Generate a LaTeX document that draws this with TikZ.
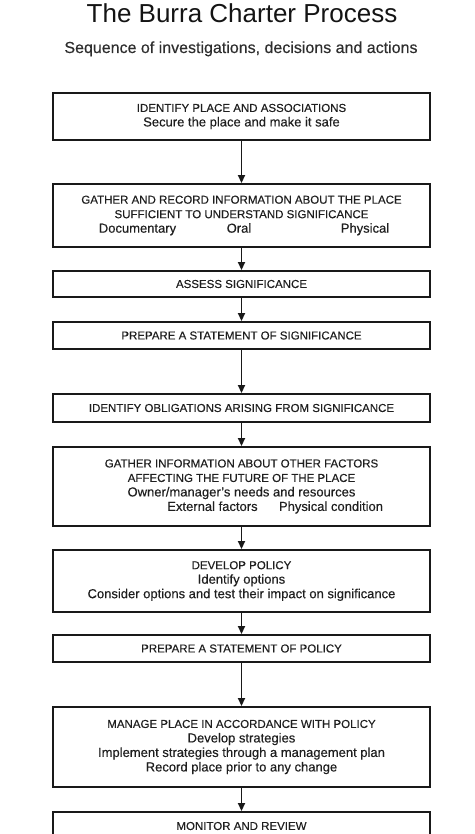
\documentclass[tikz,border=0pt]{standalone}
\usepackage{fontspec}
\setmainfont{Liberation Sans}
\newfontfamily\boxfam{Liberation Sans}[FakeBold=0.35]
\usetikzlibrary{arrows.meta}
\newcommand\capf{\boxfam\fontsize{11.5}{14.5}\selectfont}
\newcommand\lowf{\fontsize{13}{14.5}\selectfont}
\begin{document}
\begin{tikzpicture}[x=1pt,y=-1pt,
  box/.style={draw=black!90, line width=1.9pt, minimum width=377pt, inner sep=0pt,
    align=center, font=\capf, text=black!88},
  arr/.style={line width=1.7pt, draw=black!90, -{Triangle[width=7pt,length=8pt]}}]
\useasboundingbox (0,0) rectangle (474,834);
\clip (0,0) rectangle (474,834);
\node[anchor=base, font=\fontsize{26}{30}\selectfont, text=black!92] (title) at (242,23) {The Burra Charter Process};
\node[anchor=base, font=\boxfam\fontsize{16}{19}\selectfont, text=black!82] (sub) at (241,53) {Sequence of investigations, decisions and actions};

\node[box, minimum height=47pt] (b1) at (241.5,116.5)
  {IDENTIFY PLACE AND ASSOCIATIONS\\{\lowf Secure the place and make it safe}};
\node[box, minimum height=63pt] (b2) at (241.5,215.5)
  {GATHER AND RECORD INFORMATION ABOUT THE PLACE\\SUFFICIENT TO UNDERSTAND SIGNIFICANCE\\
   {\lowf\makebox[300pt][l]{\hspace*{46pt}\makebox[0pt]{Documentary}\hspace*{101.5pt}\makebox[0pt]{Oral}\hspace*{126pt}\makebox[0pt]{Physical}}}};
\node[box, minimum height=26pt] (b3) at (241.5,284) {ASSESS SIGNIFICANCE};
\node[box, minimum height=27pt] (b4) at (241.5,335.5) {PREPARE A STATEMENT OF SIGNIFICANCE};
\node[box, minimum height=28pt] (b5) at (241.5,408) {IDENTIFY OBLIGATIONS ARISING FROM SIGNIFICANCE};
\node[box, minimum height=79pt] (b6) at (241.5,486.5)
  {GATHER INFORMATION ABOUT OTHER FACTORS\\AFFECTING THE FUTURE OF THE PLACE\\
   {\lowf Owner/manager’s needs and resources}\\
   {\lowf\makebox[300pt][l]{\hspace*{121pt}\makebox[0pt]{External factors}\hspace*{118.5pt}\makebox[0pt]{Physical condition}}}};
\node[box, minimum height=62pt] (b7) at (241.5,581)
  {DEVELOP POLICY\\{\lowf Identify options}\\{\lowf Consider options and test their impact on significance}};
\node[box, minimum height=27pt] (b8) at (241.5,648.5) {PREPARE A STATEMENT OF POLICY};
\node[box, minimum height=80pt] (b9) at (241.5,747)
  {MANAGE PLACE IN ACCORDANCE WITH POLICY\\{\lowf Develop strategies}\\
   {\lowf Implement strategies through a management plan}\\{\lowf Record place prior to any change}};
\node[box, minimum height=28pt] (b10) at (241.5,826) {MONITOR AND REVIEW};

\draw[arr] (b1.south) -- (b2.north);
\draw[arr] (b2.south) -- (b3.north);
\draw[arr] (b3.south) -- (b4.north);
\draw[arr] (b4.south) -- (b5.north);
\draw[arr] (b5.south) -- (b6.north);
\draw[arr] (b6.south) -- (b7.north);
\draw[arr] (b7.south) -- (b8.north);
\draw[arr] (b8.south) -- (b9.north);
\draw[arr] (b9.south) -- (b10.north);
\end{tikzpicture}
\end{document}
